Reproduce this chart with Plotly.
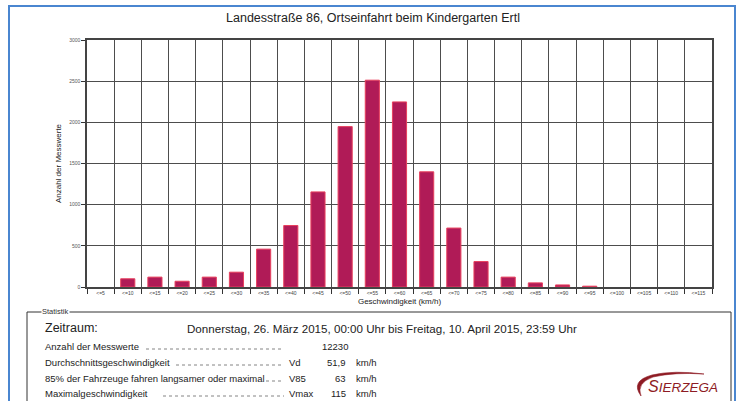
import plotly.graph_objects as go

# ---------------- data ----------------
categories = ["<=5", "<=10", "<=15", "<=20", "<=25", "<=30", "<=35", "<=40", "<=45", "<=50",
              "<=55", "<=60", "<=65", "<=70", "<=75", "<=80", "<=85", "<=90", "<=95", "<=100",
              "<=105", "<=110", "<=115"]
counts = [0, 100, 120, 70, 120, 180, 460, 747, 1155, 1948,
          2512, 2248, 1399, 716, 309, 120, 50, 25, 10, 0,
          0, 0, 0]
y_ticks = [0, 500, 1000, 1500, 2000, 2500, 3000]

title_text = "Landesstraße 86, Ortseinfahrt beim Kindergarten Ertl"
x_title = "Geschwindigkeit (km/h)"
y_title = "Anzahl der Messwerte"

period_label = "Zeitraum:"
period_text = "Donnerstag, 26. März 2015, 00:00 Uhr bis Freitag, 10. April 2015, 23:59 Uhr"
stat_labels = ["Anzahl der Messwerte", "Durchschnittsgeschwindigkeit",
               "85% der Fahrzeuge fahren langsamer oder maximal", "Maximalgeschwindigkeit"]
stat_symbols = ["", "Vd", "V85", "Vmax"]
stat_values = ["12230", "51,9", "63", "115"]
stat_units = ["", "km/h", "km/h", "km/h"]

# ---------------- geometry helpers (pixel -> paper) ----------------
W, H = 737, 401
L, R, T, B = 87, 712, 40, 287


def PX(x):
    return (x - L) / (R - L)


def PY(y):
    return (B - y) / (B - T)


tick_text = [c.replace("<", "&lt;") for c in categories]
line_widths = [1 if v > 0 else 0 for v in counts]

fig = go.Figure()
fig.add_trace(go.Bar(
    x=categories, y=counts, width=0.52,
    marker=dict(color="#b01b57", line=dict(color="#e8405e", width=line_widths)),
    hoverinfo="x+y",
))

font_family = "Liberation Sans, Arial, sans-serif"

fig.update_layout(
    width=W, height=H,
    margin=dict(l=L, r=W - R, t=T, b=H - B, pad=0),
    paper_bgcolor="white", plot_bgcolor="white",
    showlegend=False,
    font=dict(family=font_family, color="#222"),
    title=dict(text=title_text, x=373 / W, xref="container", xanchor="center",
               y=1 - 18 / H, yref="container", yanchor="middle",
               font=dict(size=12.5, color="#222", family=font_family)),
    bargap=0.48,
)

fig.update_xaxes(
    type="category", categoryorder="array", categoryarray=categories,
    tickmode="array", tickvals=categories, ticktext=tick_text,
    tickson="boundaries", ticks="outside", ticklen=5, tickwidth=1, tickcolor="#333",
    tickfont=dict(size=5, color="#444"),
    showgrid=True, gridcolor="#4d4d4d", gridwidth=1.3,
    showline=True, linecolor="#444", linewidth=1.5, mirror=True,
    range=[-0.5, len(categories) - 0.5],
    title=dict(text=x_title, font=dict(size=8, color="#222"), standoff=4),
    automargin=False,
    fixedrange=True,
)
fig.update_yaxes(
    range=[0, 3000], tickmode="array", tickvals=y_ticks,
    ticks="outside", ticklen=4, tickwidth=1, tickcolor="#333",
    tickfont=dict(size=5, color="#555"),
    showgrid=True, gridcolor="#4d4d4d", gridwidth=1.3,
    showline=True, linecolor="#444", linewidth=1.5, mirror=True,
    zeroline=False,
    title=dict(text=y_title, font=dict(size=8, color="#222"), standoff=6),
    automargin=False,
    fixedrange=True,
)

shapes = []
# outer blue frame
shapes.append(dict(type="rect", xref="paper", yref="paper",
                   x0=PX(9), x1=PX(735), y0=PY(430), y1=PY(6),
                   line=dict(color="#4a86d0", width=2), fillcolor="rgba(0,0,0,0)", layer="above"))
# statistics box
shapes.append(dict(type="rect", xref="paper", yref="paper",
                   x0=PX(27), x1=PX(731), y0=PY(430), y1=PY(312),
                   line=dict(color="#333", width=1), fillcolor="rgba(0,0,0,0)", layer="above"))

annotations = []
annotations.append(dict(text="Statistik", xref="paper", yref="paper", x=PX(41), y=PY(311),
                        xanchor="left", yanchor="middle", showarrow=False,
                        font=dict(size=7.5, color="#333"), bgcolor="white", borderpad=0))
annotations.append(dict(text=period_label, xref="paper", yref="paper", x=PX(43), y=PY(328),
                        xanchor="left", yanchor="middle", showarrow=False,
                        font=dict(size=12.5, color="#222")))
annotations.append(dict(text=period_text, xref="paper", yref="paper", x=PX(185), y=PY(328),
                        xanchor="left", yanchor="middle", showarrow=False,
                        font=dict(size=11.6, color="#222")))

row_y = [346, 362, 378, 393]
label_end = [143, 173, 263, 160]
for i in range(len(stat_labels)):
    yy = row_y[i]
    annotations.append(dict(text=stat_labels[i], xref="paper", yref="paper", x=PX(43), y=PY(yy),
                            xanchor="left", yanchor="middle", showarrow=False,
                            font=dict(size=9.5, color="#222")))
    shapes.append(dict(type="line", xref="paper", yref="paper",
                       x0=PX(label_end[i] + 3), x1=PX(284), y0=PY(yy + 3), y1=PY(yy + 3),
                       line=dict(color="#666", width=0.8, dash="dot")))
    if stat_symbols[i]:
        annotations.append(dict(text=stat_symbols[i], xref="paper", yref="paper", x=PX(287), y=PY(yy),
                                xanchor="left", yanchor="middle", showarrow=False,
                                font=dict(size=9.5, color="#222")))
    if stat_units[i]:
        annotations.append(dict(text=stat_values[i], xref="paper", yref="paper", x=PX(348), y=PY(yy),
                                xanchor="right", yanchor="middle", showarrow=False,
                                font=dict(size=9.5, color="#222")))
        annotations.append(dict(text=stat_units[i], xref="paper", yref="paper", x=PX(354), y=PY(yy),
                                xanchor="left", yanchor="middle", showarrow=False,
                                font=dict(size=9.5, color="#222")))
    else:
        annotations.append(dict(text=stat_values[i], xref="paper", yref="paper", x=PX(320), y=PY(yy),
                                xanchor="left", yanchor="middle", showarrow=False,
                                font=dict(size=9.5, color="#222")))

# logo
annotations.append(dict(text="<i><span style='font-size:16px'>S</span>IERZEGA</i>",
                        xref="paper", yref="paper", x=PX(683), y=PY(386),
                        xanchor="center", yanchor="middle", showarrow=False,
                        font=dict(size=13.5, color="#8e1b24", family="Liberation Sans, Arial")))


def pt(x, y):
    return f"{PX(x):.5f},{PY(y):.5f}"


swoosh = (f"M {pt(641, 396)} Q {pt(630, 381)} {pt(652, 375)} Q {pt(674, 370)} {pt(704, 374)} "
          f"Q {pt(674, 372)} {pt(653, 377)} Q {pt(636, 383)} {pt(641, 396)} Z")
shapes.append(dict(type="path", xref="paper", yref="paper", path=swoosh,
                   fillcolor="#8e1b24", line=dict(color="#8e1b24", width=0.6), layer="above"))

fig.update_layout(shapes=shapes, annotations=annotations)

fig.write_html("out.html", include_plotlyjs=True, config={"displayModeBar": False},
               post_script="document.body.style.margin='0';document.body.style.padding='0';")
